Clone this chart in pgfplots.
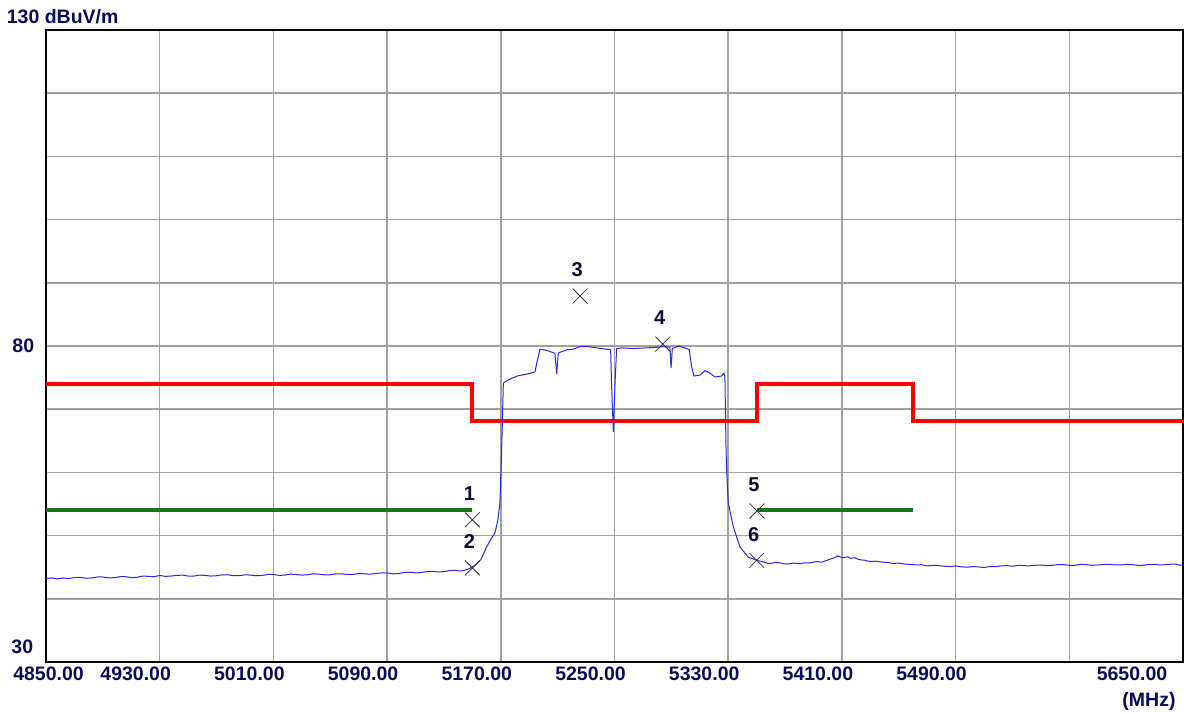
\documentclass[border=0pt]{standalone}
\usepackage{pgfplots}
\pgfplotsset{compat=1.18}
\usepackage{fontspec}
\setmainfont{Liberation Sans}
\definecolor{navy}{RGB}{10,10,90}
\definecolor{mkr}{RGB}{10,10,50}
\definecolor{trace}{RGB}{40,40,225}
\definecolor{limgreen}{RGB}{20,120,20}
\definecolor{gridgray}{RGB}{160,160,160}
\begin{document}
\begin{tikzpicture}
\begin{axis}[
  scale only axis, width=1137pt, height=632pt,
  at={(0,0)}, anchor=south west,
  xmin=4850, xmax=5650, ymin=30, ymax=130,
  xtick={4850,4930,...,5650}, ytick={30,40,...,130},
  xticklabels={}, yticklabels={},
  major tick length=0pt,
  grid=major, grid style={color=gridgray, line width=1.5pt},
  axis line style={black, line width=1.5pt},
]
% red limit
\addplot[red, line width=4pt] coordinates {
(4850,74)(5150,74)(5150,68.2)(5350,68.2)(5350,74)(5460,74)(5460,68.2)(5650,68.2)};
% green limits
\addplot[limgreen, line width=4pt] coordinates {(4850,54)(5150,54)};
\addplot[limgreen, line width=4pt] coordinates {(5350,54)(5460,54)};
% trace
\addplot[trace, line width=1pt] coordinates {
(4850,43.2)(4854,43.3)(4858,43.15)(4862,43.3)(4866,43.2)(4870,43.35)(4874,43.4)(4878,43.25)
(4882,43.3)(4886,43.45)(4890,43.45)(4894,43.3)(4898,43.35)(4902,43.5)(4906,43.5)(4910,43.35)
(4914,43.4)(4918,43.6)(4922,43.55)(4926,43.5)(4930,43.7)(4934,43.55)(4938,43.6)(4942,43.7)
(4946,43.75)(4950,43.6)(4954,43.6)(4958,43.75)(4962,43.7)(4966,43.6)(4970,43.65)(4974,43.8)
(4978,43.8)(4982,43.65)(4986,43.65)(4990,43.8)(4994,43.75)(4998,43.65)(5002,43.7)(5006,43.85)
(5010,43.85)(5014,43.7)(5018,43.75)(5022,43.9)(5026,43.85)(5030,43.75)(5034,43.8)(5038,43.95)
(5042,43.9)(5046,43.8)(5050,43.8)(5054,43.95)(5058,43.95)(5062,43.85)(5066,43.85)(5070,44.0)
(5074,43.95)(5078,43.9)(5082,44.0)(5086,44.1)(5090,44.1)(5094,43.95)(5098,44.0)(5102,44.15)
(5106,44.2)(5110,44.1)(5114,44.15)(5118,44.3)(5122,44.35)(5126,44.25)(5130,44.3)(5134,44.45)
(5138,44.5)(5141,44.4)(5144,44.45)(5148,44.8)(5152,45.3)
(5156,46.2)(5160,48.2)(5163,49.4)(5166,50.5)(5168,52.5)(5169.4,55.2)(5170.6,63.5)(5171.8,74.1)
(5173.0,74.35)(5177.7,74.9)(5182.3,75.3)(5189.3,75.6)(5194.1,75.9)(5195.3,77.3)(5197.6,79.5)
(5202.3,79.3)(5208.1,78.85)(5209.3,75.6)(5210.5,78.9)(5216.4,79.4)(5221.0,79.5)(5225.7,79.9)
(5231.6,79.9)(5237.5,79.7)(5244.5,79.5)(5247.3,79.4)(5248.0,73.6)(5249.2,66.4)(5250.3,73.6)
(5251.5,79.6)(5255.0,79.7)(5263.2,79.6)(5272.6,79.7)(5279.7,79.8)(5284.3,79.9)(5289.0,79.8)
(5289.8,76.5)(5290.7,79.6)(5294.9,80.0)(5300.8,79.6)(5302.6,79.4)(5304.3,76.7)(5305.9,75.25)
(5310.2,75.4)(5313.7,76.1)(5317.2,75.7)(5320.7,75.1)(5325.4,75.25)(5327.0,75.7)(5327.7,75.1)
(5328.5,63.5)(5328.9,60.4)(5330.1,55.1)(5333.6,51.4)(5338.3,48.2)(5344.1,46.6)(5350,46.1)
(5355,45.8)(5358,45.6)(5360,45.6)(5363,45.75)(5366,45.7)(5369,45.55)(5372,45.5)(5376,45.65)
(5380,45.55)(5384,45.7)(5388,45.7)(5392,45.9)(5396,45.8)(5399,46.05)(5402,46.3)(5405,46.5)
(5407,46.8)(5409,46.6)(5411,46.5)(5414,46.65)(5416,46.4)(5419,46.5)(5422,46.2)(5426,46.1)
(5430,45.9)(5434,45.95)(5438,45.8)(5442,45.75)(5446,45.6)(5450,45.65)(5454,45.5)(5458,45.45)
(5462,45.35)(5466,45.4)(5470,45.2)(5474,45.3)(5478,45.25)(5482,45.15)(5486,45.1)(5490,45.2)
(5494,45.05)(5498,45.0)(5502,45.1)(5506,45.05)(5510,44.95)(5514,45.1)(5518,45.1)(5522,45.2)
(5526,45.25)(5530,45.15)(5534,45.3)(5538,45.25)(5542,45.2)(5546,45.3)(5550,45.35)(5554,45.25)
(5558,45.3)(5562,45.4)(5566,45.4)(5570,45.3)(5574,45.3)(5578,45.45)(5582,45.4)(5586,45.3)
(5590,45.35)(5594,45.45)(5598,45.45)(5602,45.35)(5606,45.35)(5610,45.45)(5614,45.4)(5618,45.3)
(5622,45.3)(5626,45.45)(5630,45.45)(5634,45.35)(5638,45.4)(5642,45.5)(5645,45.5)(5648,45.3)
(5650,45.35)};
% markers
\addplot[only marks, mark=x, mark size=10.5pt, color=black!80, line width=0.8pt,
  point meta=explicit symbolic, nodes near coords, nodes near coords align={center},
  every node near coord/.append style={xshift=-3pt, yshift=26pt, text=mkr,
    font=\fontsize{20}{22}\selectfont\bfseries}]
 coordinates {
(5150,52.5)[1]
(5150,44.9)[2]
(5225.8,87.9)[3]
(5284,80.3)[4]
(5350.3,53.9)[5]
(5350,46.1)[6]
};
\end{axis}
\begin{scope}[every node/.style={text=navy, font=\fontsize{19.5}{21}\selectfont\bfseries, inner sep=0pt}]
\node[anchor=base] at (2.5pt,-18pt) {4850.00};
\node[anchor=base] at (89.7pt,-18pt) {4930.00};
\node[anchor=base] at (203.4pt,-18pt) {5010.00};
\node[anchor=base] at (317.1pt,-18pt) {5090.00};
\node[anchor=base] at (430.8pt,-18pt) {5170.00};
\node[anchor=base] at (544.5pt,-18pt) {5250.00};
\node[anchor=base] at (658.2pt,-18pt) {5330.00};
\node[anchor=base] at (771.9pt,-18pt) {5410.00};
\node[anchor=base] at (885.6pt,-18pt) {5490.00};
\node[anchor=base] at (1086pt,-18pt) {5650.00};
\node[anchor=base] at (1103pt,-44pt) {(MHz)};
\node[anchor=base east] at (-11.7pt,309.7pt) {80};
\node[anchor=base east] at (-12.7pt,9pt) {30};
\node[anchor=base west] at (-39.3pt,638.7pt) {130 dBuV/m};
\end{scope}
\pgfresetboundingbox
\path[use as bounding box] (-46pt,-51pt) rectangle (1138pt,662pt);
\end{tikzpicture}
\end{document}
